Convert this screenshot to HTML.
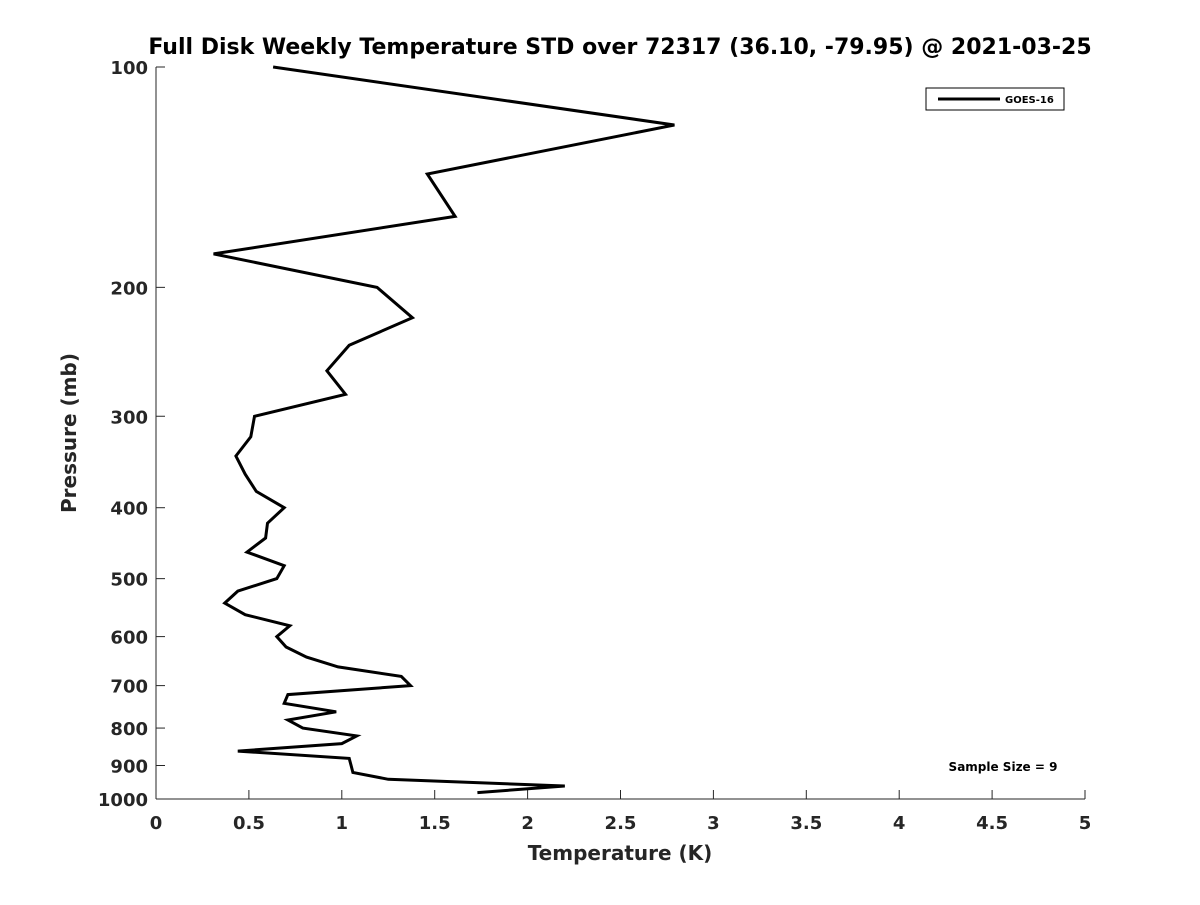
<!DOCTYPE html>
<html><head><meta charset="utf-8"><style>
body{margin:0;background:#fff;}
svg{font-family:"DejaVu Sans","Liberation Sans",sans-serif;font-weight:bold;}
</style></head><body>
<svg id="chart" width="1200" height="900" xmlns="http://www.w3.org/2000/svg">
<rect width="1200" height="900" fill="#fff"/>
<text x="620" y="54" text-anchor="middle" font-size="22" fill="#000">Full Disk Weekly Temperature STD over 72317 (36.10, -79.95) @ 2021-03-25</text>
<g id="axes"></g>
<g id="series"></g>
<text x="620" y="860" text-anchor="middle" font-size="20" fill="#262626">Temperature (K)</text>
<text transform="translate(76,433) rotate(-90)" text-anchor="middle" font-size="20" fill="#262626">Pressure (mb)</text>
<g>
<rect x="926" y="88" width="138" height="22" fill="#fff" stroke="#000" stroke-width="1"/>
<line x1="938" y1="99" x2="1000" y2="99" stroke="#000" stroke-width="3"/>
<text x="1005" y="103" font-size="10" fill="#000">GOES-16</text>
</g>
<text x="1003" y="771" text-anchor="middle" font-size="12" fill="#000">Sample Size = 9</text>
</svg>
<script>
const xTicks=[0,0.5,1,1.5,2,2.5,3,3.5,4,4.5,5];
const xTickLabels=["0","0.5","1","1.5","2","2.5","3","3.5","4","4.5","5"];
const yTicks=[100,200,300,400,500,600,700,800,900,1000];
const temps=[0.63,2.79,1.46,1.61,0.31,1.19,1.38,1.04,0.92,1.02,0.53,0.51,0.43,0.48,0.54,0.69,0.60,0.59,0.49,0.69,0.65,0.44,0.37,0.48,0.72,0.65,0.70,0.81,0.98,1.32,1.37,0.71,0.69,0.97,0.71,0.79,1.08,1.00,0.44,1.04,1.05,1.06,1.25,2.20,1.73];
const pressures=[100,120,140,160,180,200,220,240,260,280,300,320,340,360,380,400,420,440,460,480,500,520,540,560,580,600,620,640,660,680,700,720,740,760,780,800,820,840,860,880,900,920,940,960,980];
const X0=156,X1=1085,Y0=67,Y1=799;
const xs=v=>X0+(v-0)/(5-0)*(X1-X0);
const ys=p=>Y0+(Math.log10(p)-2)/(3-2)*(Y1-Y0);
const NS="http://www.w3.org/2000/svg";
const ax=document.getElementById('axes');
function mk(t,a,parent){const e=document.createElementNS(NS,t);for(const k in a)e.setAttribute(k,a[k]);parent.appendChild(e);return e;}
let l=mk('line',{x1:X0,y1:Y0,x2:X0,y2:Y1,stroke:'#262626','stroke-width':1},ax);


l=mk('line',{x1:X0,y1:Y1,x2:X1,y2:Y1,stroke:'#262626','stroke-width':1},ax);


xTicks.forEach((v,i)=>{
  const t=mk('line',{x1:xs(v),y1:Y1,x2:xs(v),y2:Y1-9,stroke:'#262626'},ax);
  
  
  const tx=mk('text',{x:xs(v),y:Y1+30,'text-anchor':'middle','font-size':18,fill:'#262626'},ax);
  tx.textContent=xTickLabels[i];
  
  
});
yTicks.forEach(p=>{
  const t=mk('line',{x1:X0,y1:ys(p),x2:X0+9,y2:ys(p),stroke:'#262626'},ax);
  
  
  const tx=mk('text',{x:X0-8,y:ys(p)+7,'text-anchor':'end','font-size':18,fill:'#262626'},ax);
  tx.textContent=String(p);
  
  
});
const pts=temps.map((t,i)=>xs(t).toFixed(1)+','+ys(pressures[i]).toFixed(1)).join(' ');
const pl=mk('polyline',{points:pts,fill:'none',stroke:'#000','stroke-width':3,'stroke-linejoin':'miter'},document.getElementById('series'));


</script>
</body></html>
